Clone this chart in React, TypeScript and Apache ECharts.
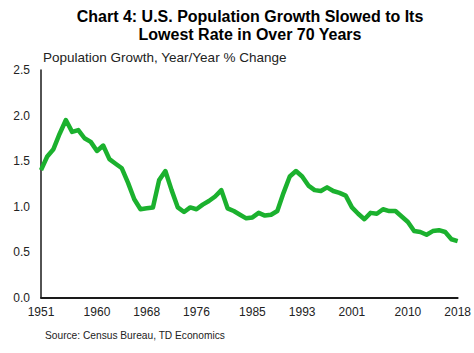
import React, { useEffect, useRef } from "react";
import * as echarts from "echarts";

const years: string[] = [];
for (let y = 1951; y <= 2018; y++) years.push(String(y));

const growth = [
  1.40, 1.55, 1.63, 1.80, 1.95, 1.82, 1.84, 1.75, 1.71, 1.61,
  1.67, 1.52, 1.47, 1.42, 1.26, 1.08, 0.97, 0.98, 0.99, 1.29,
  1.39, 1.18, 0.99, 0.94, 0.99, 0.97, 1.02, 1.06, 1.11, 1.18,
  0.98, 0.95, 0.91, 0.87, 0.88, 0.93, 0.90, 0.91, 0.95, 1.15,
  1.33, 1.39, 1.33, 1.23, 1.18, 1.17, 1.21, 1.17, 1.15, 1.12,
  0.99, 0.92, 0.86, 0.93, 0.92, 0.97, 0.95, 0.95, 0.89, 0.83,
  0.73, 0.72, 0.69, 0.73, 0.74, 0.72, 0.64, 0.62,
];

const xTickLabels = ["1951", "1960", "1968", "1976", "1985", "1993", "2001", "2010", "2018"];

const titleLines = [
  "Chart 4: U.S. Population Growth Slowed to Its",
  "Lowest Rate in Over 70 Years",
];
const subtitle = "Population Growth, Year/Year % Change";
const source = "Source: Census Bureau, TD Economics";

const FONT = "'Liberation Sans', Arial, sans-serif";

export default function App() {
  const ref = useRef<HTMLDivElement>(null);
  useEffect(() => {
    if (!ref.current) return;
    const chart = echarts.init(ref.current, undefined, { renderer: "svg" });
    chart.setOption({
      animation: false,
      backgroundColor: "#ffffff",
      textStyle: { fontFamily: FONT },
      title: [
        {
          text: titleLines.join("\n"),
          left: 245,
          top: 2,
          textAlign: "center",
          textStyle: { fontSize: 16, fontWeight: "bold", color: "#000", lineHeight: 18, fontFamily: FONT },
        },
        {
          text: subtitle,
          left: 38,
          top: 45,
          textStyle: { fontSize: 13.5, fontWeight: "normal", color: "#222", fontFamily: FONT },
        },
        {
          text: source,
          left: 40,
          top: 325,
          textStyle: { fontSize: 10.2, fontWeight: "normal", color: "#222", fontFamily: FONT },
        },
      ],
      grid: { left: 41, right: 14, top: 70, bottom: 55.5, containLabel: false },
      xAxis: {
        type: "category",
        data: years,
        boundaryGap: false,
        axisLine: { show: true, lineStyle: { color: "#1a1a1a", width: 2 } },
        axisTick: { show: false },
        axisLabel: {
          interval: (i: number, v: string) => xTickLabels.includes(v),
          color: "#222",
          fontSize: 12,
          margin: 8,
          fontFamily: FONT,
        },
        splitLine: { show: false },
      },
      yAxis: {
        type: "value",
        min: 0,
        max: 2.5,
        interval: 0.5,
        axisLine: { show: true, lineStyle: { color: "#1a1a1a", width: 1.5 } },
        axisTick: { show: false },
        axisLabel: {
          formatter: (v: number) => v.toFixed(1),
          color: "#222",
          fontSize: 12,
          margin: 11,
          fontFamily: FONT,
        },
        splitLine: { show: false },
      },
      series: [
        {
          type: "line",
          data: growth,
          showSymbol: false,
          symbol: "none",
          lineStyle: { color: "#1bb12e", width: 4.5, join: "round" },
        },
      ],
    });
    return () => chart.dispose();
  }, []);
  return <div ref={ref} style={{ width: 474, height: 353, position: "absolute", left: 0, top: 0 }} />;
}
